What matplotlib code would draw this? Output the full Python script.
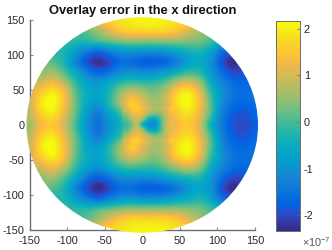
import numpy as np
import matplotlib
matplotlib.use("Agg")
import matplotlib.pyplot as plt
from matplotlib.colors import LinearSegmentedColormap
from matplotlib.patches import Circle

plt.rcParams['font.family'] = ['Liberation Sans', 'DejaVu Sans']
plt.rcParams['axes.unicode_minus'] = False
plt.rcParams['mathtext.fontset'] = 'custom'
plt.rcParams['mathtext.rm'] = 'Liberation Sans'
plt.rcParams['mathtext.default'] = 'regular'

# ---------- values (units of 1e-7) ----------
x_mm = [-165, -150, -135, -120, -105, -90, -75, -60, -45, -30, -15, 0, 15, 30, 45, 60, 75, 90, 105, 120, 135, 150, 165]
y_mm = [165, 150, 135, 120, 105, 90, 75, 60, 45, 30, 15, 0, -15, -30, -45, -60, -75, -90, -105, -120, -135, -150, -165]

overlay_x = [
    [0.5, 0.5, 0.5, 0.5, 0.5, 0.8, 1.2, 1.5, 1.8, 2.0, 2.1, 2.1, 2.1, 2.1, 2.0, 1.8, 1.5, 1.0, 0.5, 0.5, 0.5, 0.5, 0.5],
    [0.3, 0.3, 0.3, 0.3, 0.3, 0.4, 0.9, 1.3, 1.7, 1.9, 2.0, 2.05, 2.05, 2.0, 1.9, 1.7, 1.3, 0.8, 0.3, 0.3, 0.3, 0.3, 0.3],
    [0.0, 0.0, 0.0, 0.0, 0.0, 0.0, 0.2, 0.6, 1.1, 1.5, 1.7, 1.75, 1.75, 1.7, 1.5, 1.1, 0.7, 0.2, 0.0, -0.2, -0.2, -0.2, -0.2],
    [0.0, 0.0, 0.0, -0.1, -0.1, -0.2, -0.2, 0.0, 0.2, 0.4, 0.5, 0.5, 0.5, 0.5, 0.5, 0.4, 0.3, 0.0, -0.4, -0.7, -0.9, -0.9, -0.9],
    [0.2, 0.2, 0.1, -0.2, -0.3, -0.8, -1.3, -1.6, -1.3, -1.0, -0.9, -1.0, -1.0, -0.9, -0.7, -0.4, -0.3, -0.7, -1.5, -1.8, -1.7, -1.7, -1.7],
    [0.4, 0.4, 0.3, 0.1, -0.3, -1.2, -1.9, -2.25, -2.0, -1.6, -1.6, -1.8, -1.8, -1.7, -1.3, -0.8, -0.6, -1.0, -1.9, -2.3, -2.0, -1.9, -1.9],
    [0.7, 0.7, 0.5, 0.6, 0.1, -0.6, -1.3, -1.7, -1.5, -1.1, -1.0, -1.1, -1.0, -0.8, -0.4, -0.1, -0.2, -0.9, -1.6, -2.0, -1.9, -1.8, -1.8],
    [1.0, 1.0, 1.0, 1.3, 0.8, -0.1, -0.7, -0.9, -0.6, -0.2, 0.0, -0.1, -0.1, 0.2, 0.8, 1.1, 0.6, -0.5, -1.2, -1.6, -1.7, -1.6, -1.6],
    [1.0, 1.0, 1.6, 2.0, 1.4, 0.2, -0.5, -0.7, -0.3, 0.5, 1.0, 0.7, 0.4, 0.8, 1.7, 2.0, 1.2, -0.1, -1.0, -1.5, -1.6, -1.5, -1.5],
    [0.9, 0.9, 1.9, 2.17, 1.4, 0.3, -0.6, -0.9, -0.3, 0.6, 1.6, 1.1, 0.6, 0.9, 1.8, 2.1, 1.4, 0.1, -1.1, -1.6, -1.7, -1.6, -1.6],
    [0.8, 0.8, 1.6, 1.9, 1.2, 0.2, -0.8, -1.4, -0.8, -0.1, 1.1, 1.1, 0.3, 0.8, 1.5, 1.8, 1.2, 0.0, -1.3, -1.8, -1.9, -1.7, -1.7],
    [0.6, 0.6, 1.3, 1.5, 1.0, 0.0, -1.0, -1.5, -1.0, -0.4, 0.3, -0.4, -1.1, 0.7, 1.3, 1.5, 1.0, -0.4, -1.4, -1.9, -2.0, -1.8, -1.8],
    [0.8, 0.8, 1.6, 1.9, 1.2, 0.2, -0.8, -1.4, -0.8, -0.1, 1.1, 1.1, 0.3, 0.8, 1.5, 1.8, 1.2, 0.0, -1.3, -1.8, -1.9, -1.7, -1.7],
    [0.9, 0.9, 1.9, 2.17, 1.4, 0.3, -0.6, -0.9, -0.3, 0.6, 1.6, 1.1, 0.6, 0.9, 1.8, 2.1, 1.4, 0.1, -1.1, -1.6, -1.7, -1.6, -1.6],
    [1.0, 1.0, 1.6, 2.0, 1.4, 0.2, -0.5, -0.7, -0.3, 0.5, 1.0, 0.7, 0.4, 0.8, 1.6, 1.9, 1.2, -0.1, -1.0, -1.5, -1.6, -1.5, -1.5],
    [1.0, 1.0, 1.0, 1.3, 0.8, -0.1, -0.7, -1.0, -0.6, -0.2, 0.0, -0.1, -0.1, 0.2, 0.6, 0.9, 0.5, -0.5, -1.2, -1.6, -1.7, -1.6, -1.6],
    [0.7, 0.7, 0.5, 0.6, 0.1, -0.6, -1.4, -1.8, -1.5, -1.1, -1.0, -1.1, -1.0, -0.8, -0.5, -0.3, -0.3, -0.9, -1.6, -2.0, -1.9, -1.8, -1.8],
    [0.4, 0.4, 0.3, 0.1, -0.3, -1.2, -1.9, -2.3, -2.0, -1.6, -1.6, -1.8, -1.8, -1.7, -1.4, -0.9, -0.7, -1.0, -1.9, -2.3, -2.0, -1.9, -1.9],
    [0.2, 0.2, 0.1, -0.2, -0.3, -0.8, -1.3, -1.6, -1.3, -1.0, -0.9, -1.0, -1.0, -0.9, -0.7, -0.5, -0.3, -0.7, -1.5, -1.8, -1.7, -1.7, -1.7],
    [0.0, 0.0, 0.0, -0.1, -0.1, -0.2, -0.2, 0.0, 0.2, 0.4, 0.5, 0.5, 0.5, 0.5, 0.5, 0.4, 0.3, 0.0, -0.4, -0.7, -0.9, -0.9, -0.9],
    [0.0, 0.0, 0.0, 0.0, 0.0, 0.0, 0.2, 0.6, 1.1, 1.5, 1.7, 1.75, 1.75, 1.7, 1.5, 1.1, 0.7, 0.2, 0.0, -0.2, -0.2, -0.2, -0.2],
    [0.3, 0.3, 0.3, 0.3, 0.3, 0.4, 0.9, 1.3, 1.7, 1.9, 2.0, 2.05, 2.05, 2.0, 1.9, 1.7, 1.3, 0.8, 0.3, 0.3, 0.3, 0.3, 0.3],
    [0.5, 0.5, 0.5, 0.5, 0.5, 0.8, 1.2, 1.5, 1.8, 2.0, 2.1, 2.1, 2.1, 2.1, 2.0, 1.8, 1.5, 1.0, 0.5, 0.5, 0.5, 0.5, 0.5],
]

# finer reading around the pinch in the middle, 7.5 mm apart
x_center = [-22.5, -15, -7.5, 0, 7.5, 15, 22.5, 30, 37.5]
y_center = [22.5, 15, 7.5, 0, -7.5, -15, -22.5]
overlay_center = [
    [1.0, 1.5, 1.6, 1.3, 0.9, 0.7, 0.7, 1.0, 1.5],
    [0.5, 1.1, 1.3, 1.1, 0.6, 0.3, 0.4, 0.8, 1.3],
    [0.1, 0.6, 1.0, 0.5, -0.4, -0.7, -0.1, 0.7, 1.2],
    [-0.1, 0.3, 0.8, -0.4, -1.0, -1.1, -0.2, 0.7, 1.2],
    [0.1, 0.6, 1.0, 0.5, -0.4, -0.7, -0.1, 0.7, 1.2],
    [0.5, 1.1, 1.3, 1.1, 0.6, 0.3, 0.4, 0.8, 1.3],
    [1.0, 1.5, 1.6, 1.3, 0.9, 0.7, 0.7, 1.0, 1.5],
]

x_ticks = [-150, -100, -50, 0, 50, 100, 150]
y_ticks = [-150, -100, -50, 0, 50, 100, 150]
cbar_ticks = [-2, -1, 0, 1, 2]
cbar_min, cbar_max = -2.34, 2.17

# MATLAB parula
parula = LinearSegmentedColormap.from_list('parula', [
    (0.2081, 0.1663, 0.5292), (0.2123, 0.2138, 0.6270), (0.1959, 0.2645, 0.7279), (0.1253, 0.3242, 0.8303),
    (0.0117, 0.3875, 0.8820), (0.0165, 0.4266, 0.8786), (0.0498, 0.4586, 0.8641), (0.0723, 0.4887, 0.8467),
    (0.0793, 0.5200, 0.8312), (0.0641, 0.5570, 0.8240), (0.0343, 0.5966, 0.8199), (0.0239, 0.6287, 0.8038),
    (0.0228, 0.6535, 0.7768), (0.0384, 0.6743, 0.7436), (0.0843, 0.6928, 0.7062), (0.1453, 0.7098, 0.6646),
    (0.2178, 0.7250, 0.6193), (0.3022, 0.7376, 0.5712), (0.3953, 0.7459, 0.5244), (0.4871, 0.7491, 0.4840),
    (0.5709, 0.7485, 0.4494), (0.6473, 0.7456, 0.4188), (0.7184, 0.7411, 0.3905), (0.7858, 0.7356, 0.3633),
    (0.8507, 0.7299, 0.3360), (0.9139, 0.7258, 0.3063), (0.9739, 0.7314, 0.2666), (0.9990, 0.7653, 0.2164),
    (0.9880, 0.8066, 0.1794), (0.9697, 0.8481, 0.1475), (0.9589, 0.8949, 0.1132), (0.9661, 0.9514, 0.0755),
    (0.9763, 0.9831, 0.0538),
], N=256)

line_col = '#6e6e6e'
text_col = '#262626'

fig = plt.figure(figsize=(3.32, 2.50), dpi=100)

# ---------- wafer map ----------
ax = fig.add_axes([29.5/332, 20/250, 225.5/332, 210/250])
step = abs(x_mm[1] - x_mm[0])
# catrom goes through the grid values, agg's bicubic blurs them
im = ax.imshow(overlay_x, cmap=parula, vmin=cbar_min, vmax=cbar_max, interpolation='catrom',
               extent=[x_mm[0]-step/2, x_mm[-1]+step/2, y_mm[-1]-step/2, y_mm[0]+step/2],
               aspect='auto', zorder=3)
wafer = Circle((0, 0), 154, transform=ax.transData)
im.set_clip_box(fig.bbox)  # the wafer pokes out past the axes limits
im.set_clip_path(wafer)
step_c = abs(x_center[1] - x_center[0])
ax.imshow(overlay_center, cmap=parula, vmin=cbar_min, vmax=cbar_max, interpolation='catrom',
          extent=[x_center[0]-step_c/2, x_center[-1]+step_c/2, y_center[-1]-step_c/2, y_center[0]+step_c/2],
          aspect='auto', zorder=3.5)
ax.set_xlim(-150, 150)
ax.set_ylim(-150, 150)
ax.set_xticks(x_ticks)
ax.set_yticks(y_ticks)
ax.spines['top'].set_visible(False)
ax.spines['right'].set_visible(False)
for side in ['left', 'bottom']:
    ax.spines[side].set_color(line_col)
    ax.spines[side].set_linewidth(1.0)
    ax.spines[side].set_zorder(1)
ax.tick_params(direction='in', length=2.0, width=0.6, color=line_col, labelcolor=text_col, labelsize=7.8)
ax.tick_params(axis='x', pad=4.5)
ax.tick_params(axis='y', pad=3.5)
ax.text(0, 150 + 9*300/210, "Overlay error in the x direction", ha='center', va='center', fontsize=9.3,
        fontweight='bold', color='#111111', zorder=5)

# ---------- colorbar ----------
cax = fig.add_axes([276/332, 19/250, 23.7/332, 210/250])
ramp = np.linspace(cbar_min, cbar_max, 256).reshape(-1, 1)
cax.imshow(ramp, cmap=parula, vmin=cbar_min, vmax=cbar_max, origin='lower', aspect='auto',
           extent=[0, 1, cbar_min, cbar_max])
cax.set_xticks([])
cax.yaxis.tick_right()
cax.set_yticks(cbar_ticks)
cax.tick_params(direction='in', length=2.0, width=0.6, color=line_col, labelcolor=text_col, labelsize=7.8, pad=3)
for s in cax.spines.values():
    s.set_color(line_col)
    s.set_linewidth(0.7)
fig.text(316/332, 1/250, r'$\times 10^{-7}$', ha='center', va='bottom', fontsize=7.8, color='#555555')

fig.savefig("out.png", dpi=100)
